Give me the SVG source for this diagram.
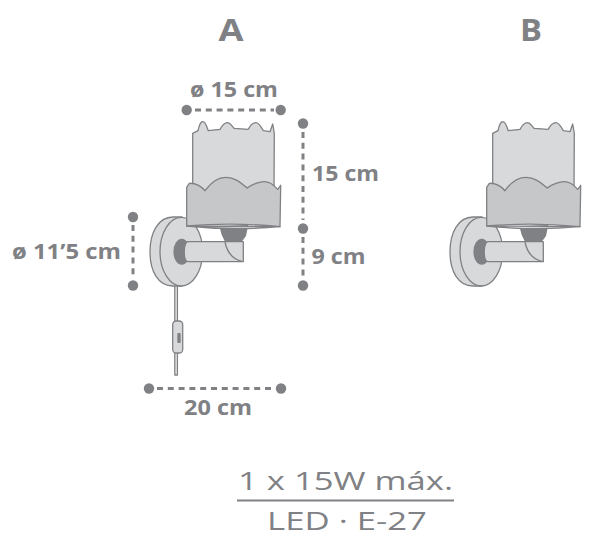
<svg xmlns="http://www.w3.org/2000/svg" xmlns:xlink="http://www.w3.org/1999/xlink" width="600" height="551" viewBox="0 0 600 551">
<style>
.o{stroke:#808184;stroke-width:1.3;stroke-linejoin:round}
.l{fill:#d8d9db}.m{fill:#c6c7c8}.d{fill:#808184;stroke:none}
.dash{stroke:#808184;stroke-width:3;stroke-dasharray:6 4.800;fill:none}
.dot{fill:#808184}
.b{font-family:"Open Sans",sans-serif;font-weight:700;fill:#808184;text-anchor:middle;font-size:21px}
.h{font-size:31px}
.t{font-family:"Open Sans",sans-serif;font-weight:400;fill:#808184;text-anchor:middle;font-size:26px}
</style>
<defs>
<g id="lamp">
<path class="o l" d="M173 217C158 217 150 233 150 252C150 271 158 286 173 286L182 286L182 217Z"/>
<ellipse class="o l" cx="181.300" cy="251.700" rx="21.300" ry="34.300"/>
<ellipse class="d" cx="181.700" cy="251.700" rx="8.300" ry="13"/>
<path class="o l" d="M188 241.700L243.300 241.700L243.300 261.700L188 261.700C183 261.700 183 241.700 188 241.700Z"/>
<path class="o" fill="none" d="M225 242C227 252 232 259 242 261.500"/>
<path class="d" d="M219.300 226L248.300 225L246 236L241.700 241.700L225 241.700L221.700 235Z"/>
<path class="o l" d="M192.700 133.300L198 130.700C199.500 124 200.500 121.700 203 121.700C205.500 121.700 206.500 126 208.300 130.700L220 129.300C222.500 125 224.500 122.700 227.300 122.700C230 122.700 232 126 234 128.300L248.300 129.300C250.500 125 253 122.700 256 122.700C259 122.700 261 127 263.300 130.700L270 131.700L272.700 124L274.300 133.300L274 192L192.700 192Z"/>
<path class="o l" d="M186.700 226L280 226.700Q233 231 186.700 226Z"/>
<path class="o m" d="M186.700 187.300L189.300 183.300C195 183 200 185 205 190.700C209 185 216 177.300 226 177.300C236 177.300 242 184 247.300 188C252 184 260 181.700 264 181.700C270 181.700 274 185 277.700 189.300L280.700 185.300L280 226.700Q233 222 186.700 226Z"/>
</g>
</defs>
<g id="lamp-a">
<g id="cord">
<rect class="o" fill="#eeeeef" x="174.800" y="285" width="2.600" height="90"/>
<rect class="o l" x="172.700" y="321" width="10" height="32" rx="3.500"/>
<rect class="d" x="177.300" y="333" width="3.400" height="10" rx="1"/>
</g>
<use xlink:href="#lamp" href="#lamp"/>
</g>
<g id="lamp-b"><use xlink:href="#lamp" href="#lamp" x="300"/></g>
<g id="connectors">
<path class="dash" d="M195 110H274"/>
<circle class="dot" cx="186.700" cy="110" r="5.200"/><circle class="dot" cx="280.700" cy="110" r="5.200"/>
<path class="dash" d="M303 132V220M303 237V277"/>
<circle class="dot" cx="303" cy="123.500" r="5.200"/><circle class="dot" cx="303" cy="228.500" r="5.200"/><circle class="dot" cx="303" cy="285.500" r="5.200"/>
<path class="dash" d="M133 225V278"/>
<circle class="dot" cx="133" cy="217" r="5.200"/><circle class="dot" cx="133" cy="285.500" r="5.200"/>
<path class="dash" d="M157 388.500H273"/>
<circle class="dot" cx="149" cy="388.500" r="5.200"/><circle class="dot" cx="281" cy="388.500" r="5.200"/>
<path d="M237 500.500H454" stroke="#808184" stroke-width="2.200"/>
</g>
<g id="labels">
<text class="b h" x="231" y="41" textLength="25" lengthAdjust="spacingAndGlyphs">A</text>
<text class="b h" x="531" y="41" textLength="22" lengthAdjust="spacingAndGlyphs">B</text>
<text class="b" x="234" y="97" textLength="88" lengthAdjust="spacingAndGlyphs">ø 15 cm</text>
<text class="b" x="345.500" y="181" textLength="67" lengthAdjust="spacingAndGlyphs">15 cm</text>
<text class="b" x="338.500" y="264" textLength="54" lengthAdjust="spacingAndGlyphs">9 cm</text>
<text class="b" x="66.500" y="259" textLength="109" lengthAdjust="spacingAndGlyphs">ø 11’5 cm</text>
<text class="b" x="218" y="415" textLength="68" lengthAdjust="spacingAndGlyphs">20 cm</text>
<text class="t" x="345.500" y="490" textLength="215" lengthAdjust="spacingAndGlyphs">1 x 15W máx.</text>
<text class="t" x="347" y="530" textLength="160" lengthAdjust="spacingAndGlyphs">LED · E-27</text>
</g>
</svg>
